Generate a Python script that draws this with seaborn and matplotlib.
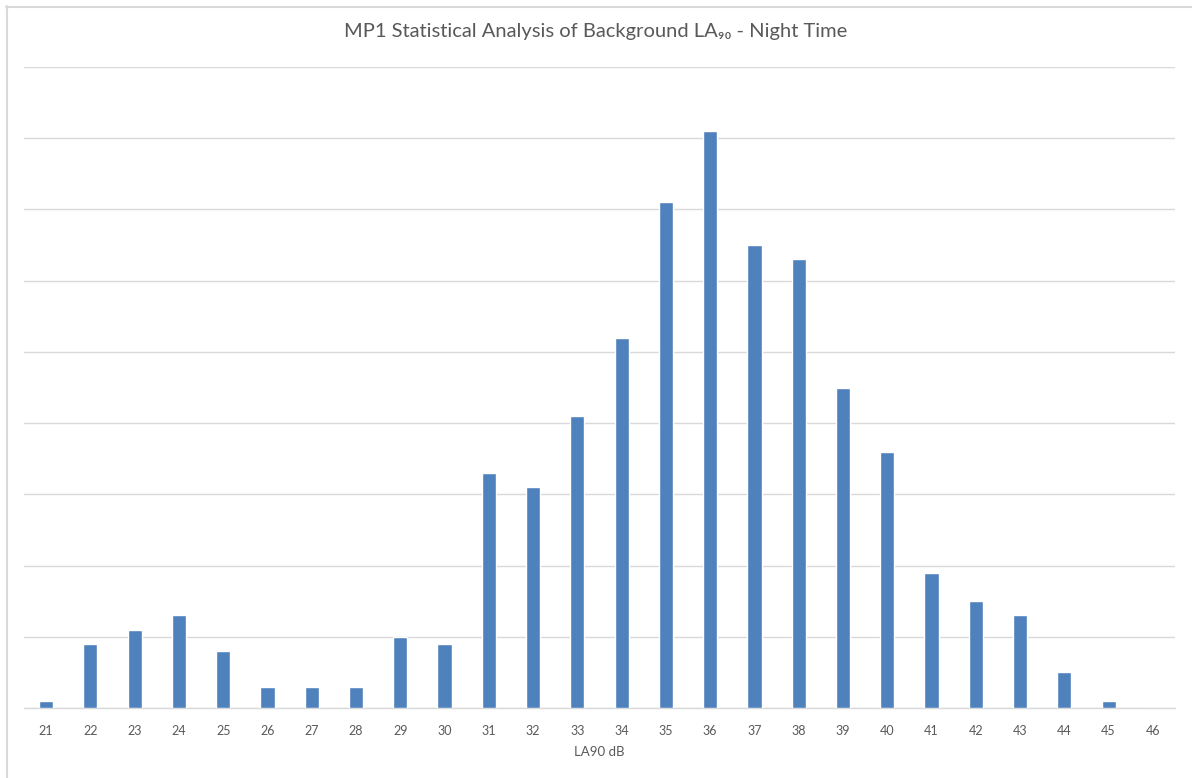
import numpy as np
import pandas as pd
import matplotlib
matplotlib.use("Agg")
import matplotlib.pyplot as plt
import seaborn as sns

# LA90 bins (dB) and relative frequency (grid step = 1)
levels = [str(v) for v in range(21, 47)]
freq = [0.1, 0.9, 1.1, 1.3, 0.8, 0.3, 0.3, 0.3, 1.0, 0.9,
        3.3, 3.1, 4.1, 5.2, 7.1, 8.1, 6.5, 6.3, 4.5, 3.6,
        1.9, 1.5, 1.3, 0.5, 0.1, 0.0]

df = pd.DataFrame({"level": levels, "freq": freq})

sns.set_theme(style="white")
plt.rcParams["font.family"] = ["Lato", "DejaVu Sans"]

fig = plt.figure(figsize=(11.92, 7.78), dpi=100)
ax = fig.add_axes([24 / 1192, 70 / 778, 1151 / 1192, 641 / 778])

sns.barplot(data=df, x="level", y="freq", color="#4F81BD", width=0.32,
            saturation=1, ax=ax, zorder=3)

ax.set_xlim(-0.5, len(levels) - 0.5)
ax.set_ylim(0, 9)
ax.set_yticks(np.arange(0, 10, 1))
ax.set_yticklabels([])
ax.yaxis.grid(True, color="#D9D9D9", linewidth=1)
ax.tick_params(axis="both", length=0)
ax.tick_params(axis="x", colors="#595959", labelsize=9, pad=12)
for s in ["top", "right", "left"]:
    ax.spines[s].set_visible(False)
ax.spines["bottom"].set_color("#D9D9D9")
ax.spines["bottom"].set_linewidth(1)

ax.set_xlabel("LA90 dB", color="#595959", fontsize=9.5, labelpad=7)
ax.set_ylabel("")

fig.text(0.5, 1 - 31 / 778, "MP1 Statistical Analysis of Background LA\u2089\u2080 - Night Time",
         ha="center", va="center", fontsize=14.5, color="#595959")

# chart frame (top/left edges visible)
fig.add_artist(plt.Line2D([6 / 1192, 1], [1 - 6.5 / 778, 1 - 6.5 / 778],
                          color="#D9D9D9", lw=1.5, transform=fig.transFigure))
fig.add_artist(plt.Line2D([6.5 / 1192, 6.5 / 1192], [0, 1 - 6 / 778],
                          color="#D9D9D9", lw=1.5, transform=fig.transFigure))

fig.savefig("out.png", dpi=100, facecolor="white")
